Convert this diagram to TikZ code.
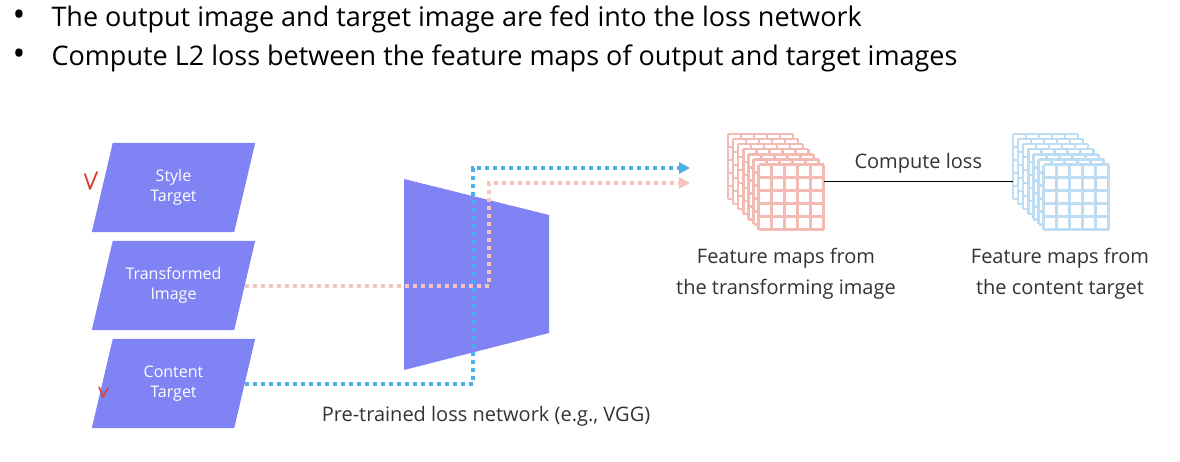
\documentclass[tikz,border=0pt]{standalone}
\usepackage{fontspec}
\setmainfont{Open Sans}
\usetikzlibrary{arrows.meta,backgrounds}
\definecolor{para}{HTML}{7F83F3}
\definecolor{bline}{HTML}{4AB0E8}
\definecolor{pline}{HTML}{F5C4BC}
\definecolor{pgrid}{HTML}{F2BCB4}
\definecolor{bgrid}{HTML}{BEDDF2}
\definecolor{txt}{HTML}{333333}
\definecolor{checkred}{HTML}{D8402E}
\newcommand{\fmstack}[3]{%
  \foreach \i in {0,...,6}{%
    \begin{scope}[shift={(#1+\i*5.1,#2+\i*5.1)}]
      \fill[white] (0,0) rectangle (65,65);
      \foreach \k in {0,13,...,65}{%
        \draw[#3,line width=2.4] (\k,0) -- (\k,65);
        \draw[#3,line width=2.4] (0,\k) -- (65,\k);}
    \end{scope}}}
\newcommand{\parashape}[1]{%
  \fill[para] ([xshift=-10.5pt]#1.south west) -- ([xshift=10.5pt]#1.north west)
    -- ([xshift=10.5pt]#1.north east) -- ([xshift=-10.5pt]#1.south east) -- cycle;}
\begin{document}
\begin{tikzpicture}[x=1pt,y=-1pt,
  inbox/.style={rectangle,draw=none,minimum width=142pt,minimum height=89pt,
    inner sep=0pt,text=white,align=center,font=\fontsize{16}{20}\selectfont},
  dotline/.style={line width=4pt,dash pattern=on 4pt off 4pt},
  lbl/.style={text=txt,align=center,font=\fontsize{20}{31}\selectfont},
  bullet/.style={text=black,anchor=west,font=\fontsize{27}{32}\selectfont},
  fm/.style={minimum width=95.6pt,minimum height=95.6pt,inner sep=0pt,draw=none},
  check/.style={checkred,line cap=round,line join=round}]
\useasboundingbox (0,0) rectangle (1180,462);
% bullets
\node[bullet,font=\fontsize{34}{34}\selectfont] (b1d) at (9,18) {•};
\node[bullet] (b1) at (48,19) {The output image and target image are fed into the loss network};
\node[bullet,font=\fontsize{34}{34}\selectfont] (b2d) at (9,57) {•};
\node[bullet] (b2) at (48,58) {Compute L2 loss between the feature maps of output and target images};
% inputs
\node[inbox] (ST) at (173.5,187.5) {Style\\Target};
\node[inbox] (TI) at (173.5,285.5) {Transformed\\Image};
\node[inbox] (CT) at (173.5,383.5) {Content\\Target};
\begin{pgfonlayer}{background}
\parashape{ST}
\parashape{TI}
\parashape{CT}
\end{pgfonlayer}
% check marks
\draw[check,line width=1.8pt] (85,174) -- (90,189) -- (97,172);
\draw[check,line width=1.5pt] (99,387) -- (103,397) -- (108,388);
% loss network
\coordinate (n1) at (404,179);
\coordinate (n2) at (549,215);
\coordinate (n3) at (549,333);
\coordinate (n4) at (404,370);
\fill[para] (n1) -- (n2) -- (n3) -- (n4) -- cycle;
\node[lbl] (net) at (486,416) {Pre-trained loss network (e.g., VGG)};
% feature maps
\fmstack{728}{134}{pgrid}
\fmstack{1013}{134}{bgrid}
\node[fm] (fmA) at (775.8,181.8) {};
\node[fm] (fmB) at (1060.8,181.8) {};
\node[lbl] (la) at (786,274) {Feature maps from\\the transforming image};
\node[lbl] (lb) at (1060,274) {Feature maps from\\the content target};
\draw[black,line width=1.2pt] (fmA.east) -- (fmB.west)
  node[midway,above=5pt,text=txt,font=\fontsize{20}{22}\selectfont] (cl) {Compute loss};
% connectors
\coordinate (pturn) at (489,183);
\coordinate (pend) at (690,183);
\coordinate (bturn) at (473,168);
\coordinate (bend) at (690,168);
\draw[pline,dotline,-{Triangle[length=11pt,width=11pt]}] (TI.east) -| (pturn) -- (pend);
\draw[bline,dotline,-{Triangle[length=11pt,width=11pt]}] (CT.east) -| (bturn) -- (bend);
\end{tikzpicture}
\end{document}
